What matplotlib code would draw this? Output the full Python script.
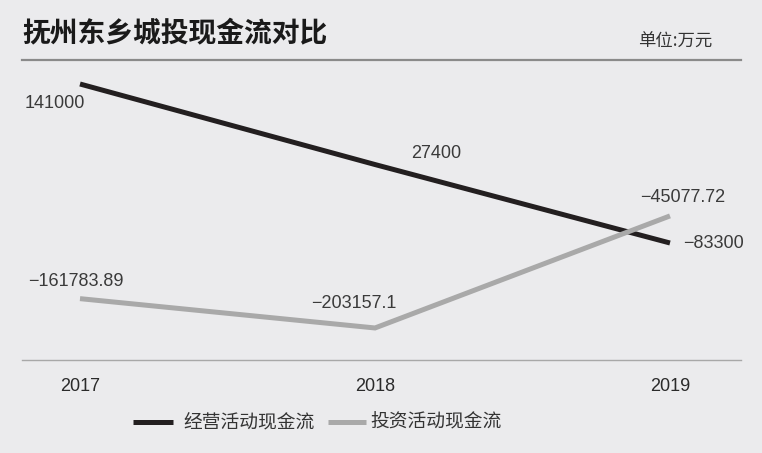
import matplotlib
matplotlib.use("Agg")
import matplotlib.pyplot as plt
from matplotlib.lines import Line2D

plt.rcParams['font.family'] = ['Liberation Sans', 'Noto Sans CJK SC', 'DejaVu Sans']

years = ["2017", "2018", "2019"]
operating = [141000, 27400, -83300]
investing = [-161783.89, -203157.1, -45077.72]
operating_labels = ["141000", "27400", "\u221283300"]
investing_labels = ["\u2212161783.89", "\u2212203157.1", "\u221245077.72"]
series_names = ["经营活动现金流", "投资活动现金流"]

bg = "#ebebed"
black = "#231f20"
gray = "#a9a9a9"
cjk = ['Noto Sans CJK SC', 'DejaVu Sans']

W, H = 762, 453
fig = plt.figure(figsize=(W / 100, H / 100), dpi=100, facecolor=bg)

# axes spans pixel x 22..741, y 60..360
ax = fig.add_axes([22 / W, 1 - 360 / H, (741 - 22) / W, 300 / H])
ax.set_facecolor(bg)

x = list(range(len(years)))
ax.plot(x, operating, color=black, lw=3.6, solid_capstyle="butt", solid_joinstyle="miter")
ax.plot(x, investing, color=gray, lw=3.6, solid_capstyle="butt", solid_joinstyle="miter")

ax.set_xlim(-0.1966, 2.2407)
ax.set_ylim(-248336, 174855)

for s in ["left", "right"]:
    ax.spines[s].set_visible(False)
ax.spines["top"].set_color("#8a8a8a")
ax.spines["top"].set_linewidth(1.6)
ax.spines["bottom"].set_color("#a8a8a8")
ax.spines["bottom"].set_linewidth(1.0)

ax.set_yticks([])
ax.set_xticks(x)
ax.set_xticklabels(years, fontsize=13, color="#2a2a2a")
ax.tick_params(axis="x", length=0, pad=13)

# value labels, offsets in pixels
op_off = [(-25, -20), (61, 11), (44, 0)]
inv_off = [(-4, 17), (-21, 24), (13, 18)]
for i in x:
    ax.annotate(operating_labels[i], (i, operating[i]), xytext=op_off[i],
                textcoords="offset pixels", ha="center", va="center",
                fontsize=13, color="#3a3a3a")
    ax.annotate(investing_labels[i], (i, investing[i]), xytext=inv_off[i],
                textcoords="offset pixels", ha="center", va="center",
                fontsize=13, color="#3a3a3a")

# title and unit
fig.text(22 / W, 1 - 34 / H, "抚州东乡城投现金流对比", family=cjk, fontsize=20,
         fontweight="heavy", color="#1a1a1a", ha="left", va="center")
fig.text(712 / W, 1 - 42 / H, "单位:万元", family=cjk, fontsize=12.5,
         color="#333333", ha="right", va="center")

# legend
ly = 1 - 422 / H
fig.add_artist(Line2D([133 / W, 173 / W], [ly, ly], color=black, lw=3.6, solid_capstyle="butt"))
fig.text(183 / W, ly, series_names[0], family=cjk, fontsize=13.5, color="#333333",
         ha="left", va="center")
fig.add_artist(Line2D([328 / W, 366 / W], [ly, ly], color=gray, lw=3.6, solid_capstyle="butt"))
fig.text(370 / W, ly, series_names[1], family=cjk, fontsize=13.5, color="#333333",
         ha="left", va="center")

fig.savefig("out.png", dpi=100, facecolor=bg)
